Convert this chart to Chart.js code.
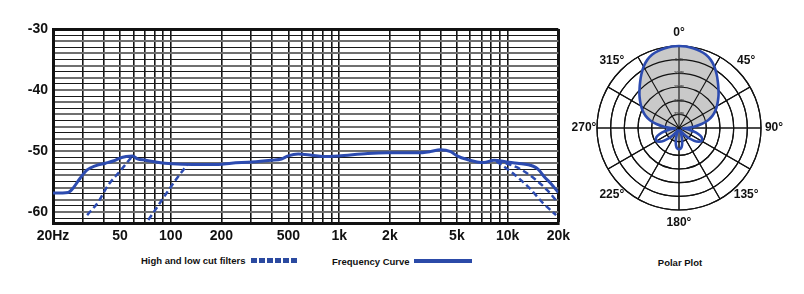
<!DOCTYPE html>
<html>
<head>
<meta charset="utf-8">
<script src="https://cdn.jsdelivr.net/npm/chart.js@4.4.1/dist/chart.umd.min.js"></script>
<style>
    body { margin: 0; background: #fff; width: 804px; height: 294px; overflow: hidden; position: relative; font-family: "Liberation Sans", Arial, sans-serif; }
    #respBox { position: absolute; left: 0; top: 0; width: 575px; height: 250px; }
    #polarBox { position: absolute; left: 569px; top: 27px; width: 220px; height: 202px; }
    .legend-text { position: absolute; font-weight: bold; font-size: 9.5px; line-height: 11px; color: #111; white-space: nowrap; }
    .legend-dash { position: absolute; left: 251px; top: 258px; width: 47px; height: 5px;
        background: repeating-linear-gradient(to right, #2b4aa0 0 6px, transparent 6px 8px); }
    .legend-solid { position: absolute; left: 414px; top: 259px; width: 58px; height: 4px; background: #2b4aa8; }
</style>
</head>
<body>
<div id="respBox"><canvas id="respChart"></canvas></div>
<div id="polarBox"><canvas id="polarChart"></canvas></div>

<div class="legend-text" style="left:141px; top:255px;">High and low cut filters</div>
<div class="legend-dash"></div>
<div class="legend-text" style="left:332px; top:256px;">Frequency Curve</div>
<div class="legend-solid"></div>
<div class="legend-text" style="left:630px; width:100px; text-align:center; top:257px;">Polar Plot</div>

<script>
// frequency response (Hz / dB)
const curveFreq = [20, 24.6, 26.3, 28.9, 31.9, 36, 41, 46, 49.5, 54.4, 59.3, 63.4, 71, 85, 102, 134, 192, 229, 303, 395, 455, 498, 572, 686, 806, 986, 1480, 1940, 2900, 3470, 3980, 4590, 5010, 5760, 7220, 8300, 9960, 11400, 14200, 15200, 16500, 18000, 20000];
const curveDb = [-56.9, -56.8, -56.1, -54.5, -53.1, -52.4, -52.0, -51.6, -51.2, -50.9, -50.8, -51.3, -51.5, -51.9, -52.1, -52.2, -52.2, -52.0, -51.8, -51.5, -51.3, -50.8, -50.5, -50.7, -50.9, -50.8, -50.4, -50.3, -50.3, -50.1, -49.8, -50.1, -50.8, -51.4, -51.9, -51.5, -51.8, -52.0, -52.5, -53.0, -54.2, -55.3, -56.8];

// cut filters (dashed)
const lowCut1Freq = [31.9, 37, 42.5, 50, 59.3];
const lowCut1Db = [-60.5, -58.4, -55.6, -53.3, -50.8];
const lowCut2Freq = [73.6, 84, 95, 108, 125];
const lowCut2Db = [-61.3, -59.0, -56.8, -54.6, -52.3];
const highCut1Freq = [8600, 11400, 14200, 17300, 19800];
const highCut1Db = [-51.6, -52.7, -54.4, -56.5, -58.4];
const highCut2Freq = [8600, 10800, 13500, 16300, 19400];
const highCut2Db = [-51.7, -53.7, -56.1, -58.6, -60.5];

// axis ticks
const freqGrid = [20, 30, 40, 50, 60, 70, 80, 90, 100, 200, 300, 400, 500, 600, 700, 800, 900, 1000, 2000, 3000, 4000, 5000, 6000, 7000, 8000, 9000, 10000, 20000];
const tickFreqs = [20, 50, 100, 200, 500, 1000, 2000, 5000, 10000, 20000];
const tickText = ['20Hz', '50', '100', '200', '500', '1k', '2k', '5k', '10k', '20k'];
const dbLabels = [-30, -40, -50, -60];
const dbGrid = [];
for (let d = -61; d <= -30; d++) dbGrid.push(d);

// polar pattern, every 5 degrees, dB
const polarAngles = [];
for (let a = 0; a < 360; a += 5) polarAngles.push(a);
const polarCurve = [
    0, -0.1, -0.4, -0.8, -1.4, -2.5, -4.1, -6.0, -7.9, -9.6, -11.1, -12.6,
    -14.0, -15.4, -17.0, -19.0, -21.6, -24.5, -27.0, -28.5, -26.0, -23.5, -21.6, -20.6,
    -20.5, -21.3, -22.8, -24.6, -26.4, -28.0, -29.0, -29.0, -27.8, -25.6, -23.6, -22.5,
    -22.2, -22.5, -23.6, -25.6, -27.8, -29.0, -29.0, -28.0, -26.4, -24.6, -22.8, -21.3,
    -20.5, -20.6, -21.6, -23.5, -26.0, -28.5, -27.0, -24.5, -21.6, -19.0, -17.0, -15.4,
    -14.0, -12.6, -11.1, -9.6, -7.9, -6.0, -4.1, -2.5, -1.4, -0.8, -0.4, -0.1
];
const polarFill = [
    0, -0.1, -0.4, -0.8, -1.4, -2.5, -4.1, -6.0, -7.9, -9.6, -11.1, -12.6,
    -14.0, -15.4, -17.0, -19.0, -21.6, -25, -25, -25, -25, -25, -25, -25,
    -25, -25, -25, -25, -25, -25, -25, -25, -25, -25, -25, -25,
    -25, -25, -25, -25, -25, -25, -25, -25, -25, -25, -25, -25,
    -25, -25, -25, -25, -25, -25, -25, -25, -21.6, -19.0, -17.0, -15.4,
    -14.0, -12.6, -11.1, -9.6, -7.9, -6.0, -4.1, -2.5, -1.4, -0.8, -0.4, -0.1
];

const blue = '#2c4bb0';
const fontFamily = '"Liberation Sans", Arial, sans-serif';
Chart.defaults.font.family = fontFamily;

const toPoints = (xs, ys) => xs.map((x, i) => ({ x: x, y: ys[i] }));

function dashed(xs, ys) {
    return {
        data: toPoints(xs, ys),
        borderColor: blue,
        borderWidth: 2.5,
        borderDash: [6, 3.5],
        pointRadius: 0,
        cubicInterpolationMode: 'monotone',
        fill: false
    };
}

new Chart(document.getElementById('respChart'), {
    type: 'line',
    data: {
        datasets: [
            {
                data: toPoints(curveFreq, curveDb),
                borderColor: blue,
                borderWidth: 3,
                pointRadius: 0,
                cubicInterpolationMode: 'monotone',
                fill: false
            },
            dashed(lowCut1Freq, lowCut1Db),
            dashed(lowCut2Freq, lowCut2Db),
            dashed(highCut1Freq, highCut1Db),
            dashed(highCut2Freq, highCut2Db)
        ]
    },
    options: {
        responsive: true,
        maintainAspectRatio: false,
        animation: false,
        layout: { padding: { top: 29, right: 13, left: 0, bottom: 0 } },
        plugins: { legend: { display: false }, tooltip: { enabled: false } },
        scales: {
            x: {
                type: 'logarithmic',
                min: 20,
                max: 20000,
                afterBuildTicks: s => { s.ticks = freqGrid.map(v => ({ value: v })); },
                afterFit: s => { s.height = 27; },
                ticks: {
                    autoSkip: false,
                    maxRotation: 0,
                    padding: 5,
                    color: '#111',
                    font: { size: 14, weight: 'bold' },
                    callback: v => {
                        const i = tickFreqs.indexOf(v);
                        return i >= 0 ? tickText[i] : '';
                    }
                },
                grid: {
                    drawTicks: false,
                    color: '#151515',
                    lineWidth: c => (c.tick && c.tick.value === 20000) ? 3 : 1.6
                },
                border: { color: '#111', width: 3 }
            },
            y: {
                min: -61.8,
                max: -30,
                afterBuildTicks: s => { s.ticks = dbGrid.map(v => ({ value: v })); },
                afterFit: s => { s.width = 53; },
                ticks: {
                    autoSkip: false,
                    padding: 5,
                    color: '#111',
                    font: { size: 14, weight: 'bold' },
                    callback: v => dbLabels.includes(v) ? String(v) : ''
                },
                grid: {
                    drawTicks: false,
                    color: c => {
                        const v = c.tick ? c.tick.value : 0;
                        if (v === -30) return '#111';
                        return v % 2 === 0 ? '#6f6f6f' : '#1a1a1a';
                    },
                    lineWidth: c => {
                        const v = c.tick ? c.tick.value : 0;
                        if (v === -30) return 3;
                        return v % 2 === 0 ? 2 : 1.1;
                    }
                },
                border: { color: '#111', width: 3 }
            }
        }
    }
});

// redraw grid over the grey fill, and draw the degree labels
const polarLabels = {
    id: 'polarLabels',
    afterDatasetDraw(chart, args) {
        if (args.index !== 1) return;
        const scale = chart.scales.r;
        scale.drawGrid(chart.chartArea);
        scale.drawLabels(chart.chartArea);
    },
    afterDraw(chart) {
        const scale = chart.scales.r;
        const ctx = chart.ctx;
        ctx.save();
        ctx.font = 'bold 12px ' + fontFamily;
        ctx.fillStyle = '#111';
        ctx.textAlign = 'center';
        ctx.textBaseline = 'middle';
        polarAngles.forEach((a, i) => {
            if (a % 45 !== 0) return;
            const p = scale.getPointPosition(i, scale.drawingArea + 13);
            ctx.fillText(a + '°', p.x, p.y);
        });
        ctx.restore();
    }
};

new Chart(document.getElementById('polarChart'), {
    type: 'radar',
    data: {
        labels: polarAngles.map(a => a + '°'),
        datasets: [
            {
                data: polarCurve,
                borderColor: blue,
                borderWidth: 2.6,
                pointRadius: 0,
                tension: 0.3,
                fill: false
            },
            {
                data: polarFill,
                borderWidth: 0,
                borderColor: 'rgba(0,0,0,0)',
                backgroundColor: '#c9c9c9',
                pointRadius: 0,
                tension: 0.3,
                fill: 'start'
            }
        ]
    },
    options: {
        responsive: true,
        maintainAspectRatio: false,
        animation: false,
        layout: { padding: { top: 17, bottom: 17, left: 26, right: 26 } },
        plugins: { legend: { display: false }, tooltip: { enabled: false } },
        scales: {
            r: {
                min: -30,
                max: 0,
                ticks: {
                    stepSize: 5,
                    showLabelBackdrop: false,
                    backdropPadding: 0,
                    color: '#444',
                    font: { size: 4, weight: 'bold' },
                    callback: v => (v < 0 && v > -30) ? (-v) + 'dB' : ''
                },
                pointLabels: { display: false },
                grid: { circular: true, color: '#111', lineWidth: 1.2 },
                angleLines: {
                    color: '#111',
                    lineWidth: c => (c.index % 6 === 0) ? 1.1 : 0
                }
            }
        }
    },
    plugins: [polarLabels]
});
</script>
</body>
</html>
